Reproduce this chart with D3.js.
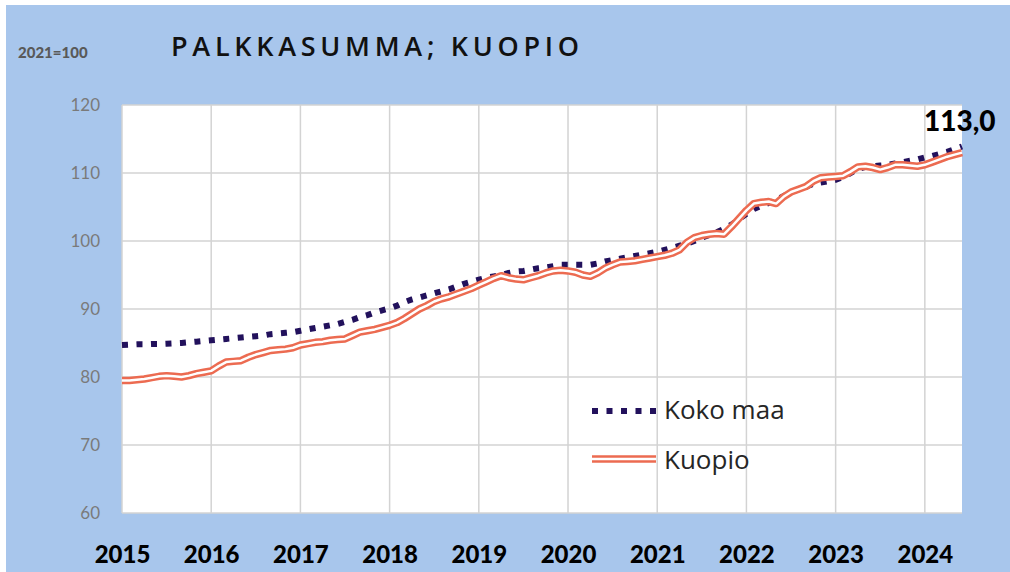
<!DOCTYPE html>
<html>
<head>
<meta charset="utf-8">
<script src="https://cdn.jsdelivr.net/npm/d3@7"></script>
<style>
  body { margin: 0; background: #fff; }
  svg { display: block; }
</style>
</head>
<body>
<svg id="chart"></svg>
<script>
// monthly index, 2021=100, Jan 2015 .. Jun 2024
const kokoMaa = [
  84.7, 84.75, 84.8, 84.8, 84.85, 84.85, 84.9, 84.95, 85.0, 85.1, 85.2, 85.3,
  85.4, 85.5, 85.6, 85.7, 85.8, 85.9, 86.0, 86.1, 86.3, 86.4, 86.5, 86.6,
  86.8, 87.0, 87.2, 87.4, 87.6, 87.8, 88.1, 88.4, 88.8, 89.1, 89.5, 89.8,
  90.1, 90.5, 91.0, 91.4, 91.7, 92.0, 92.3, 92.6, 92.9, 93.3, 93.7, 94.0,
  94.3, 94.6, 94.8, 95.0, 95.3, 95.5, 95.6, 95.8, 96.0, 96.1, 96.3, 96.5,
  96.5, 96.5, 96.5, 96.5, 96.7, 97.0, 97.2, 97.4, 97.6, 97.8, 98.0, 98.2,
  98.4, 98.7, 99.0, 99.3, 99.6, 100.0, 100.5, 100.9, 101.3, 101.8, 102.4, 103.2,
  104.0, 104.7, 105.2, 105.6, 106.0, 106.6, 107.2, 107.6, 108.0, 108.4, 108.6, 108.8,
  109.0, 109.4, 110.0, 110.6, 110.9, 111.0, 111.1, 111.2, 111.4, 111.6, 111.8, 112.0,
  112.3, 112.5, 112.8, 113.1, 113.5, 113.9
];
const kuopio = [
  79.5, 79.5, 79.6, 79.7, 79.9, 80.1, 80.2, 80.1, 80.0, 80.2, 80.5, 80.7,
  80.9, 81.6, 82.2, 82.3, 82.4, 82.9, 83.3, 83.6, 83.9, 84.0, 84.1, 84.3,
  84.7, 84.9, 85.1, 85.2, 85.4, 85.5, 85.6, 86.1, 86.6, 86.8, 87.0, 87.3,
  87.6, 88.0, 88.6, 89.3, 90.0, 90.5, 91.1, 91.5, 91.8, 92.2, 92.6, 93.0,
  93.5, 94.0, 94.5, 94.9, 94.6, 94.4, 94.3, 94.6, 94.9, 95.3, 95.6, 95.7,
  95.6, 95.4, 95.0, 94.8, 95.3, 96.0, 96.5, 96.9, 97.0, 97.1, 97.3, 97.5,
  97.7, 97.9, 98.2, 98.7, 99.8, 100.5, 100.8, 101.0, 101.1, 101.0, 102.1, 103.3,
  104.5, 105.5, 105.7, 105.8, 105.5, 106.5, 107.2, 107.6, 108.0, 108.8, 109.3, 109.4,
  109.5, 109.6, 110.2, 110.9, 111.0, 110.8, 110.5, 110.8, 111.2, 111.2, 111.1, 111.0,
  111.2, 111.6, 112.0, 112.4, 112.7, 113.0
];
const years = [2015, 2016, 2017, 2018, 2019, 2020, 2021, 2022, 2023, 2024];
const yTicks = [60, 70, 80, 90, 100, 110, 120];
const seriesNames = ["Koko maa", "Kuopio"];
const endLabel = "113,0";

const W = 1010, H = 572;
const plot = { left: 122, right: 962, top: 105, bottom: 513 };

const svg = d3.select("#chart").attr("width", W).attr("height", H);

svg.append("rect")
  .attr("x", 6).attr("y", 5)
  .attr("width", W - 6).attr("height", H - 5)
  .attr("fill", "#a8c6ec");

svg.append("rect")
  .attr("x", plot.left).attr("y", plot.top)
  .attr("width", plot.right - plot.left).attr("height", plot.bottom - plot.top)
  .attr("fill", "#fff");

const x = d3.scaleLinear()
  .domain([0, kuopio.length - 1])
  .range([plot.left, plot.right]);
const y = d3.scaleLinear()
  .domain([60, 120])
  .range([plot.bottom, plot.top]);

// gridlines
svg.append("g")
  .selectAll("line.h")
  .data(yTicks)
  .join("line")
  .attr("x1", plot.left).attr("x2", plot.right)
  .attr("y1", (d) => y(d)).attr("y2", (d) => y(d))
  .attr("stroke", "#d3d3d3").attr("stroke-width", 1.5);

svg.append("g")
  .selectAll("line.v")
  .data(years)
  .join("line")
  .attr("x1", (d) => x((d - 2015) * 12)).attr("x2", (d) => x((d - 2015) * 12))
  .attr("y1", plot.top).attr("y2", plot.bottom)
  .attr("stroke", "#d3d3d3").attr("stroke-width", 1.5);

// y axis labels
const yAxis = svg.append("g")
  .attr("transform", `translate(${plot.left - 22},0)`)
  .call(d3.axisLeft(y).tickValues(yTicks).tickSize(0).tickPadding(0));
yAxis.select(".domain").remove();
yAxis.selectAll("text")
  .attr("fill", "#7a7a7a")
  .attr("font-family", "Lato, sans-serif")
  .attr("font-size", "17px");

// x axis labels
const xAxis = svg.append("g")
  .attr("transform", `translate(0,${plot.bottom + 33})`)
  .call(
    d3.axisBottom(x)
      .tickValues(years.map((d) => (d - 2015) * 12))
      .tickFormat((d, i) => years[i])
      .tickSize(0)
      .tickPadding(0)
  );
xAxis.select(".domain").remove();
xAxis.selectAll("text")
  .attr("fill", "#000")
  .attr("font-family", "Lato, sans-serif")
  .attr("font-weight", "900")
  .attr("font-size", "24px");

// lines
const line = d3.line().x((d, i) => x(i)).y((d) => y(d));

svg.append("path")
  .datum(kokoMaa)
  .attr("d", line)
  .attr("fill", "none")
  .attr("stroke", "#22115c")
  .attr("stroke-width", 6)
  .attr("stroke-dasharray", "6,8.5");

svg.append("path")
  .datum(kuopio)
  .attr("d", line)
  .attr("fill", "none")
  .attr("stroke", "#ec6b51")
  .attr("stroke-width", 7.5)
  .attr("stroke-linejoin", "round");
svg.append("path")
  .datum(kuopio)
  .attr("d", line)
  .attr("fill", "none")
  .attr("stroke", "#fff")
  .attr("stroke-width", 2.5)
  .attr("stroke-linejoin", "round");

// end label
svg.append("text")
  .attr("x", 924)
  .attr("y", 131)
  .attr("font-family", "Lato, sans-serif")
  .attr("font-weight", "900")
  .attr("font-size", "28px")
  .attr("fill", "#000")
  .text(endLabel);

// title
svg.append("text")
  .attr("x", 171)
  .attr("y", 56)
  .attr("font-family", "'Open Sans', sans-serif")
  .attr("font-weight", "600")
  .attr("font-size", "27px")
  .attr("textLength", 408)
  .attr("lengthAdjust", "spacing")
  .attr("fill", "#111")
  .text("PALKKASUMMA; KUOPIO");

svg.append("text")
  .attr("x", 18)
  .attr("y", 58)
  .attr("font-family", "Lato, sans-serif")
  .attr("font-weight", "900")
  .attr("font-size", "15px")
  .attr("fill", "#595959")
  .text("2021=100");

// legend
const legend = svg.append("g").attr("transform", "translate(592,411)");
legend.append("line")
  .attr("x1", 0).attr("x2", 64).attr("y1", 0).attr("y2", 0)
  .attr("stroke", "#22115c").attr("stroke-width", 6)
  .attr("stroke-dasharray", "6,8.5");
legend.append("line")
  .attr("x1", 0).attr("x2", 64).attr("y1", 48).attr("y2", 48)
  .attr("stroke", "#ec6b51").attr("stroke-width", 7.5);
legend.append("line")
  .attr("x1", 0).attr("x2", 64).attr("y1", 48).attr("y2", 48)
  .attr("stroke", "#fff").attr("stroke-width", 2.5);
seriesNames.forEach((s, i) => {
  legend.append("text")
    .attr("x", 72)
    .attr("y", i * 50 + 8)
    .attr("font-family", "'Open Sans', sans-serif")
    .attr("font-size", "26px")
    .attr("fill", "#262626")
    .text(s);
});
</script>
</body>
</html>
